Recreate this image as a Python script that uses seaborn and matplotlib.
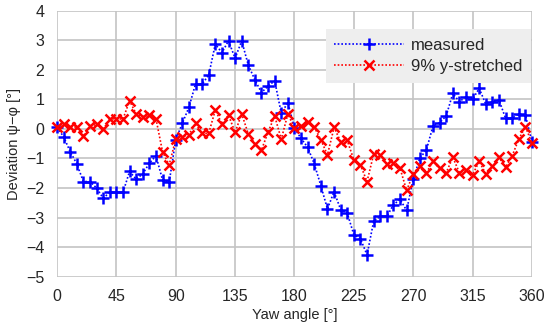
import numpy as np
import pandas as pd
import seaborn as sns
from matplotlib import pyplot as plt

yaw = list(range(0, 361, 5))

measured = [
    0.05, -0.26, -0.77, -1.18, -1.78, -1.78, -2.0, -2.34, -2.15, -2.15,
    -2.15, -1.44, -1.7, -1.52, -1.16, -0.91, -1.72, -1.81, -0.37, 0.19,
    0.73, 1.52, 1.52, 1.82, 2.87, 2.58, 2.98, 2.39, 2.98, 2.16,
    1.66, 1.23, 1.45, 1.63, 0.53, 0.89, 0.02, -0.32, -0.62, -1.18,
    -1.92, -2.71, -2.12, -2.73, -2.85, -3.58, -3.72, -4.26, -3.13, -2.96,
    -2.96, -2.57, -2.38, -2.76, -1.7, -0.99, -0.71, 0.1, 0.21, 0.44,
    1.2, 0.92, 1.09, 1.0, 1.37, 0.84, 0.92, 0.98, 0.36, 0.36,
    0.51, 0.47, -0.43,
]

stretched = [
    0.08, 0.17, 0.08, 0.06, -0.24, 0.1, 0.15, -0.01, 0.33, 0.35,
    0.33, 0.95, 0.51, 0.42, 0.46, 0.35, -0.77, -1.22, -0.35, -0.26,
    -0.19, 0.19, -0.15, -0.15, 0.64, 0.17, 0.47, -0.12, 0.51, -0.17,
    -0.51, -0.71, -0.11, 0.44, -0.35, 0.51, 0.02, 0.1, 0.24, 0.06,
    -0.37, -0.88, 0.05, -0.43, -0.39, -1.05, -1.22, -1.78, -0.86, -0.88,
    -1.18, -1.14, -1.33, -2.08, -1.52, -1.27, -1.48, -1.1, -1.33, -1.48,
    -0.96, -1.48, -1.39, -1.55, -1.1, -1.52, -1.27, -0.96, -1.3, -0.91,
    -0.35, 0.08, -0.48,
]

x_ticks = [0, 45, 90, 135, 180, 225, 270, 315, 360]
y_ticks = [4, 3, 2, 1, 0, -1, -2, -3, -4, -5]

df = pd.DataFrame({"yaw": yaw, "measured": measured, "stretched": stretched})

sns.set_style("white")
plt.rcParams["font.family"] = ["Liberation Sans", "DejaVu Sans"]

fig = plt.figure(figsize=(5.5, 3.3), dpi=100)
ax = fig.add_axes([0.1036, 0.1615, 0.8636, 0.8061])

grid_c = "#c4c4c4"
sns.lineplot(data=df, x="yaw", y="measured", ax=ax, color="#0000ff",
             linestyle=(0, (1, 1.2)), linewidth=1.2, marker="+", markersize=8,
             markeredgewidth=1.8, markeredgecolor="#0000ff", label="measured")
sns.lineplot(data=df, x="yaw", y="stretched", ax=ax, color="#ff0000",
             linestyle=(0, (1, 1.2)), linewidth=1.2, marker="x", markersize=6.5,
             markeredgewidth=1.8, markeredgecolor="#ff0000", label="9% y-stretched")

ax.set_xlim(0, 360)
ax.set_ylim(-5, 4)
ax.set_xticks(x_ticks)
ax.set_yticks(y_ticks)
ax.grid(True, color=grid_c, linewidth=1.2)
ax.set_axisbelow(True)
for s in ax.spines.values():
    s.set_visible(False)
ax.tick_params(axis="both", direction="out", length=6, width=1.2,
               color=grid_c, labelsize=11.5, pad=3)
for ln in ax.lines:
    ln.set_clip_on(False)

ax.set_xlabel("Yaw angle [°]", fontsize=10.5, labelpad=3)
ax.set_ylabel("Deviation \u03c8\u2212\u03c6 [°]", fontsize=10.5, labelpad=4)

leg = ax.legend(loc="upper right", bbox_to_anchor=(0.997, 0.93), fontsize=12,
                handlelength=4.2, frameon=True, fancybox=False,
                borderpad=0.5, labelspacing=0.4, handletextpad=0.4,
                borderaxespad=0)
leg.get_frame().set_facecolor("#eeeeee")
leg.get_frame().set_edgecolor("none")
leg.get_frame().set_alpha(1)

fig.savefig("out.png", dpi=100)
